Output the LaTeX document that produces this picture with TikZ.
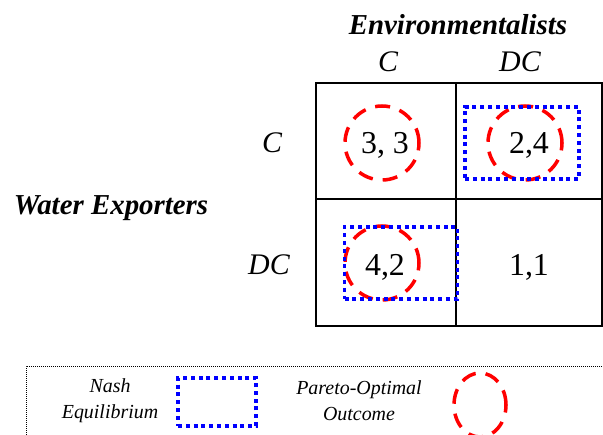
\documentclass[tikz,border=0pt]{standalone}
\usepackage{fontspec}
\setmainfont{Liberation Serif}
\usetikzlibrary{shapes.geometric, positioning}

\begin{document}
\begin{tikzpicture}[
    x=1bp, y=-1bp,
    payoff/.style={font=\fontsize{32}{36}\selectfont, inner sep=0pt},
    player/.style={font=\fontsize{29}{33}\selectfont\bfseries\itshape, inner sep=0pt},
    move/.style={font=\fontsize{30}{34}\selectfont\itshape, inner sep=0pt},
    nash/.style={draw=blue, line width=3.5bp, dash pattern=on 4bp off 3.8bp, rectangle, inner sep=0pt},
    pareto/.style={draw=red, line width=3.5bp, dash pattern=on 15bp off 10bp, inner sep=0pt},
    legendtext/.style={font=\fontsize{20}{26}\selectfont\itshape, align=center, inner sep=0pt}
]
    \useasboundingbox (0,0) rectangle (603,435);

    % Players and moves
    \node[player] (env) at (458,25) {Environmentalists};
    \node[move] (colc) at (388,62) {C};
    \node[move] (coldc) at (520,62) {DC};
    \node[player] (water) at (111,208) {Water Exporters};
    \node[move] (rowc) at (272,143) {C};
    \node[move] (rowdc) at (269,265) {DC};

    % Payoff grid
    \draw[line width=2bp] (316,83) rectangle (602,326);
    \draw[line width=2bp] (456,83) -- (456,326);
    \draw[line width=2bp] (316,199) -- (602,199);

    % Payoffs
    \node[payoff] (cc) at (385,145) {3, 3};
    \node[payoff] (cd) at (529,145) {2,4};
    \node[payoff] (dc) at (385,267) {4,2};
    \node[payoff] (dd) at (529,267) {1,1};

    % Pareto-optimal outcomes
    \node[pareto, circle, minimum size=74bp] (pocc) at (382,143) {};
    \node[pareto, circle, minimum size=74bp] (pocd) at (525,143) {};
    \node[pareto, circle, minimum size=74bp] (podc) at (382,263) {};

    % Nash equilibria
    \node[nash, minimum width=114bp, minimum height=72bp] (necd) at (522,143) {};
    \node[nash, minimum width=113bp, minimum height=72bp] (nedc) at (401,263) {};

    % Legend
    \draw[line width=0.8bp, dash pattern=on 0.8bp off 1.2bp] (604,366) -| (26,436);
    \node[legendtext] (nashtext) at (110,401) {Nash\\Equilibrium};
    \node[nash, minimum width=78bp, minimum height=48bp] (nashkey) at (217,402) {};
    \node[legendtext] (paretotext) at (359,401) {Pareto-Optimal\\Outcome};
    \node[pareto, ellipse, minimum width=52bp, minimum height=64bp] (paretokey) at (480,405) {};
\end{tikzpicture}
\end{document}
